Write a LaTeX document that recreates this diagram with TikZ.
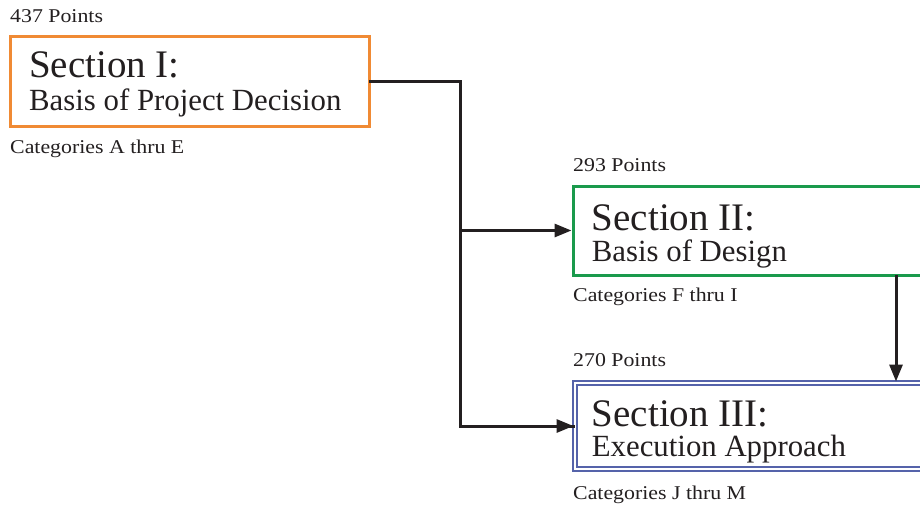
\documentclass[tikz,border=0pt]{standalone}
\usepackage{fontspec}
\setmainfont{Liberation Serif}
\newfontfamily\smallf[FakeStretch=1.12]{Liberation Serif}
\usetikzlibrary{arrows.meta}
\definecolor{ink}{HTML}{231F20}
\definecolor{orangeC}{HTML}{F08A34}
\definecolor{greenC}{HTML}{1A9A4C}
\definecolor{blueC}{HTML}{5563AA}
\tikzset{
  secbox/.style={draw, line width=3pt, minimum height=#1, anchor=north west, inner sep=0pt, outer sep=0pt},
  small/.style={anchor=base west, inner sep=0pt, text=ink, font=\smallf\fontsize{19.5}{22}\selectfont},
  big/.style={anchor=base west, inner sep=0pt, text=ink, text depth=0pt, font=\fontsize{39}{44}\selectfont},
  sub/.style={anchor=base west, inner sep=0pt, text=ink, text height=21pt, font=\fontsize{30.8}{34}\selectfont},
  conn/.style={draw=ink, line width=3pt},
  arr/.style={conn, -{Triangle[length=17pt,width=13pt]}, shorten >=1.5pt},
}
\begin{document}
\begin{tikzpicture}[x=1pt,y=-1pt]
\clip (0,0) rectangle (920,506);
\fill[white] (0,0) rectangle (920,506);
% boxes
\node[secbox=90pt, draw=orangeC, minimum width=359pt] (b1) at (10,36) {};
\node[secbox=89pt, draw=greenC, minimum width=380pt] (b2) at (573,186) {};
\node[draw=blueC, line width=1.2pt, double=white, double distance=2.8pt,
      minimum width=380pt, minimum height=86pt, anchor=north west, inner sep=0pt, outer sep=0pt] (b3) at (575,383) {};
% texts
\node[small] (p1) at (10,22.3) {437 Points};
\node[big] (s1) at (29,77.3) {Section I:};
\node[sub] (t1) at (29,110.7) {Basis of Project Decision};
\node[small] (c1) at (10,153.3) {Categories A thru E};
\node[small] (p2) at (573,171) {293 Points};
\node[big] (s2) at (591.7,230) {Section II:};
\node[sub] (t2) at (591.7,261) {Basis of Design};
\node[small] (c2) at (573,301.5) {Categories F thru I};
\node[small] (p3) at (573,366.7) {270 Points};
\node[big] (s3) at (591.7,426.3) {Section III:};
\node[sub] (t3) at (591.7,456.5) {Execution Approach};
\node[small] (c3) at (573,499) {Categories J thru M};
% connectors
\coordinate (bend) at (460,81);
\coordinate (split) at (460,230.5);
\coordinate (drop) at (896,0);
\draw[conn] (b1.east) -- (bend) |- (b3.west);
\draw[arr] (split) -- (b2.west);
\draw[arr] (b3.west -| split) -- (b3.west);
\draw[arr] (b2.south -| drop) -- (b3.north -| drop);
\end{tikzpicture}
\end{document}
